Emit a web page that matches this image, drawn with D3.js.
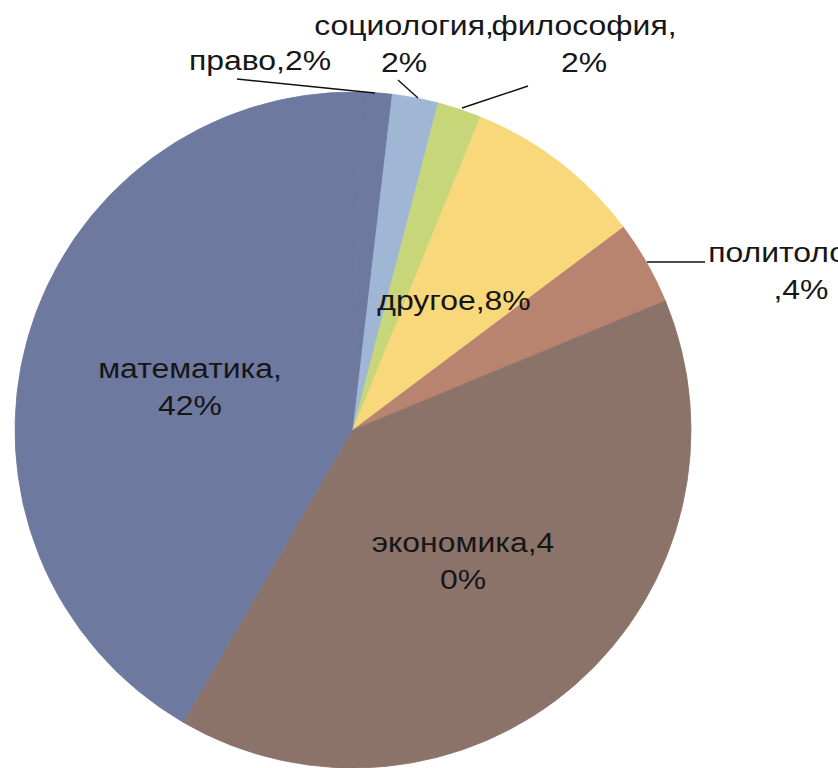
<!DOCTYPE html>
<html><head><meta charset="utf-8">
<script src="https://cdn.jsdelivr.net/npm/d3@7"></script>
<style>html,body{margin:0;padding:0;background:#fff;overflow:hidden}</style>
</head><body>
<svg id="chart" width="838" height="768"></svg>
<script>
// Data (clockwise order)
const categories = ["математика", "право", "социология", "философия", "другое", "политология", "экономика"];
const values     = [42.0, 1.5, 2.2, 2.1, 8.6, 4.0, 39.6];
const pctLabels  = ["42%", "2%", "2%", "2%", "8%", "4%", "40%"];
const colors     = ["#6e79a0", "#6e79a0", "#9fb6d5", "#c8d67a", "#f9d87c", "#b8846f", "#8c736a"];

// Label layout (lines + anchor positions)
const labelLines = [
  ["математика,", "42%"],
  ["право,2%"],
  ["социология,", "2%"],
  ["философия,", "2%"],
  ["другое,8%"],
  ["политология", ",4%"],
  ["экономика,4", "0%"]
];
const labelPos = [[190, 378], [260, 70], [404, 35], [584, 35], [454, 310], [801, 262], [463, 552]];
const leaders = [null, [[237, 79], [375, 93]], [[398, 80], [418, 98]], [[528, 86], [462, 108]], null, [[705, 262], [647, 262]], null];

const svg = d3.select("#chart");
const cx = 353, cy = 430, R = 338;
const g = svg.append("g").attr("transform", `translate(${cx},${cy})`);

const start = 210.1 * Math.PI / 180;
const pie = d3.pie().sort(null).value(d => d).startAngle(start).endAngle(start + 2 * Math.PI);
const arc = d3.arc().innerRadius(0).outerRadius(R);
const arcs = pie(values);

g.selectAll("path.slice").data(arcs).enter().append("path")
  .attr("class", "slice")
  .attr("d", arc)
  .attr("fill", (d, i) => colors[i])
  .attr("stroke", (d, i) => colors[i])
  .attr("stroke-width", 0.8);

// leader lines
leaders.forEach(l => {
  if (!l) return;
  svg.append("path").attr("d", d3.line()(l))
    .attr("fill", "none").attr("stroke", "#111").attr("stroke-width", 1.4);
});

// labels
const fs = 28, lh = 37, sx = 1.14;
labelLines.forEach((lines, i) => {
  const [x, y] = labelPos[i];
  const t = svg.append("text")
    .attr("transform", `translate(${x},${y}) scale(${sx},1)`)
    .attr("text-anchor", "middle")
    .attr("font-family", "Liberation Sans, Arial, sans-serif")
    .attr("font-size", fs)
    .attr("fill", "#161616");
  lines.forEach((s, j) => {
    t.append("tspan").attr("x", 0).attr("y", j * lh).text(s);
  });
});
</script>
</body></html>
